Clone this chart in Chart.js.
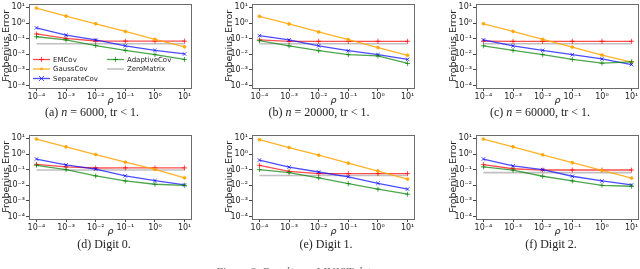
<!DOCTYPE html>
<html>
<head>
<meta charset="utf-8">
<script src="https://cdn.jsdelivr.net/npm/chart.js@4.4.1/dist/chart.umd.min.js"></script>
<style>
  html, body { margin: 0; padding: 0; background: #fff; }
  body { width: 640px; height: 269px; position: relative; overflow: hidden; }
  canvas { position: absolute; }
  .cap {
    position: absolute;
    font-family: 'Liberation Serif', serif;
    font-size: 12px;
    color: #222;
    white-space: nowrap;
    transform: translateX(-50%);
  }
</style>
</head>
<body>
<script>
// rho values on the x axis and the tick labels
const rho = [1e-4, 1e-3, 1e-2, 1e-1, 1, 10];
const xTickLabels = ['10⁻⁴', '10⁻³', '10⁻²', '10⁻¹', '10⁰', '10¹'];
const yTickLabels = ['10⁻⁴', '10⁻³', '10⁻²', '10⁻¹', '10⁰', '10¹'];
const tickExponents = [-4, -3, -2, -1, 0, 1];

const seriesNames = ['EMCov', 'GaussCov', 'SeparateCov', 'AdaptiveCov', 'ZeroMatrix'];

const captions = [
  '(a) <i>n</i> = 6000, tr &lt; 1.',
  '(b) <i>n</i> = 20000, tr &lt; 1.',
  '(c) <i>n</i> = 60000, tr &lt; 1.',
  '(d) Digit 0.',
  '(e) Digit 1.',
  '(f) Digit 2.'
];

// one row per panel, (a) to (f)
const emCov = [
  [0.2, 0.105, 0.071, 0.07, 0.07, 0.07],
  [0.083, 0.068, 0.068, 0.068, 0.068, 0.068],
  [0.07, 0.068, 0.068, 0.068, 0.068, 0.068],
  [0.22, 0.15, 0.128, 0.13, 0.13, 0.13],
  [0.19, 0.078, 0.056, 0.056, 0.056, 0.056],
  [0.21, 0.115, 0.095, 0.095, 0.095, 0.095]
];
const gaussCov = [
  [9, 2.8, 0.9, 0.29, 0.09, 0.03],
  [2.7, 0.87, 0.27, 0.087, 0.027, 0.0087],
  [0.9, 0.29, 0.09, 0.029, 0.009, 0.0032],
  [9.1, 2.9, 0.93, 0.3, 0.104, 0.03],
  [8.3, 2.6, 0.85, 0.26, 0.082, 0.025],
  [9.1, 2.9, 0.89, 0.28, 0.09, 0.029]
];
const separateCov = [
  [0.49, 0.17, 0.083, 0.035, 0.018, 0.0105],
  [0.155, 0.083, 0.035, 0.017, 0.0095, 0.0047],
  [0.083, 0.035, 0.018, 0.0095, 0.0051, 0.0022],
  [0.48, 0.2, 0.11, 0.04, 0.02, 0.0105],
  [0.41, 0.145, 0.071, 0.035, 0.0134, 0.0057],
  [0.48, 0.175, 0.1, 0.038, 0.019, 0.0105]
];
const adaptiveCov = [
  [0.133, 0.083, 0.036, 0.018, 0.0095, 0.0047],
  [0.075, 0.035, 0.017, 0.0095, 0.0079, 0.0026],
  [0.035, 0.018, 0.0095, 0.0047, 0.0027, 0.0033],
  [0.19, 0.1, 0.04, 0.019, 0.0117, 0.01],
  [0.1, 0.065, 0.03, 0.0128, 0.0057, 0.0027],
  [0.15, 0.095, 0.038, 0.019, 0.01, 0.0087]
];
const zeroMatrix = [
  [0.047, 0.047, 0.047, 0.047, 0.047, 0.047],
  [0.047, 0.047, 0.047, 0.047, 0.047, 0.047],
  [0.047, 0.047, 0.047, 0.047, 0.047, 0.047],
  [0.095, 0.095, 0.095, 0.095, 0.095, 0.095],
  [0.042, 0.042, 0.042, 0.042, 0.042, 0.042],
  [0.065, 0.065, 0.065, 0.065, 0.065, 0.065]
];

const styles = [
  { color: 'rgba(255,0,0,0.7)', marker: 'cross', radius: 2.5, width: 1.3 },
  { color: 'rgba(255,165,0,0.85)', marker: 'circle', radius: 1.4, width: 1.3 },
  { color: 'rgba(0,0,255,0.7)', marker: 'crossRot', radius: 2.5, width: 1.3 },
  { color: 'rgba(0,128,0,0.7)', marker: 'cross', radius: 2.5, width: 1.3 },
  { color: 'rgba(150,150,150,0.6)', marker: false, radius: 0, width: 1.6 }
];

const FONT = "'DejaVu Sans', sans-serif";

// canvas placement of each panel
const colLeft = [0, 223, 447];
const rowTop = [0, 131];
const canvasW = 198;
const canvasH = 106;
const captionX = [92, 319, 540, 104, 326, 551];
const captionTop = [105, 237];

/**
 * Frame around the plot area (all four spines)
 */
const boxPlugin = {
  id: 'box',
  afterDraw(chart) {
    const { ctx, chartArea: a } = chart;
    ctx.save();
    ctx.strokeStyle = '#6b6b6b';
    ctx.lineWidth = 1;
    ctx.strokeRect(Math.round(a.left) + 0.5, Math.round(a.top) + 0.5,
      Math.round(a.right - a.left) - 1, Math.round(a.bottom - a.top) - 1);
    ctx.restore();
  }
};

const drawMarker = (ctx, style, x, y) => {
  const r = style.radius;
  ctx.beginPath();
  if (style.marker === 'cross') {
    ctx.moveTo(x - r, y); ctx.lineTo(x + r, y);
    ctx.moveTo(x, y - r); ctx.lineTo(x, y + r);
    ctx.stroke();
  } else if (style.marker === 'crossRot') {
    ctx.moveTo(x - r, y - r); ctx.lineTo(x + r, y + r);
    ctx.moveTo(x - r, y + r); ctx.lineTo(x + r, y - r);
    ctx.stroke();
  } else if (style.marker === 'circle') {
    ctx.arc(x, y, r, 0, Math.PI * 2);
    ctx.fill();
  }
};

/**
 * Legend drawn inside the plot area, two columns like matplotlib
 */
const insideLegend = {
  id: 'insideLegend',
  afterDraw(chart, args, opts) {
    if (!opts.show) return;
    const { ctx, chartArea: a } = chart;
    ctx.save();
    ctx.font = '7px ' + FONT;
    ctx.textBaseline = 'middle';
    chart.data.datasets.forEach((ds, i) => {
      const col = i < 3 ? 0 : 1;
      const row = i < 3 ? i : i - 3;
      const x0 = a.left + 4 + col * 74;
      const y = a.top + 56 + row * 9.5;
      const st = styles[i];
      ctx.strokeStyle = st.color;
      ctx.fillStyle = st.color;
      ctx.lineWidth = st.width;
      ctx.beginPath();
      ctx.moveTo(x0, y);
      ctx.lineTo(x0 + 17, y);
      ctx.stroke();
      ctx.lineWidth = 1;
      drawMarker(ctx, st, x0 + 8.5, y);
      ctx.fillStyle = '#222';
      ctx.fillText(ds.label, x0 + 20, y + 0.5);
    });
    ctx.restore();
  }
};

const fixedTicks = (scale) => {
  scale.ticks = tickExponents.map((e) => ({ value: Math.pow(10, e) }));
};

const makePanel = (p) => {
  const col = p % 3;
  const row = Math.floor(p / 3);
  const canvas = document.createElement('canvas');
  canvas.style.left = colLeft[col] + 'px';
  canvas.style.top = rowTop[row] + 'px';
  canvas.style.width = canvasW + 'px';
  canvas.style.height = canvasH + 'px';
  canvas.width = canvasW;
  canvas.height = canvasH;
  document.body.appendChild(canvas);

  const seriesData = [emCov[p], gaussCov[p], separateCov[p], adaptiveCov[p], zeroMatrix[p]];
  const datasets = seriesData.map((vals, i) => ({
    label: seriesNames[i],
    data: vals.map((v, k) => ({ x: rho[k], y: v })),
    borderColor: styles[i].color,
    backgroundColor: styles[i].color,
    borderWidth: styles[i].width,
    pointStyle: styles[i].marker,
    pointRadius: styles[i].radius,
    pointBorderWidth: 1,
    pointHoverRadius: styles[i].radius,
    order: i === 4 ? 10 : 5 - i,
    tension: 0
  }));

  new Chart(canvas.getContext('2d'), {
    type: 'line',
    data: { datasets },
    options: {
      responsive: false,
      animation: false,
      devicePixelRatio: 1,
      layout: { padding: { left: 0, right: canvasW - 29 - 163, top: 1, bottom: 0 } },
      plugins: {
        legend: { display: false },
        tooltip: { enabled: false },
        insideLegend: { show: p === 0 }
      },
      scales: {
        x: {
          type: 'logarithmic',
          min: Math.pow(10, -4.25),
          max: Math.pow(10, 1.25),
          afterBuildTicks: fixedTicks,
          afterFit: (scale) => {
            scale.height = 18;
            scale.paddingLeft = 0;
            scale.paddingRight = 0;
          },
          border: { display: false },
          grid: { display: true, drawOnChartArea: false, drawTicks: true, tickLength: 3, color: '#444' },
          ticks: {
            autoSkip: false,
            maxRotation: 0,
            padding: 1,
            color: '#222',
            font: { family: FONT, size: 8 },
            callback: (v, i) => xTickLabels[i]
          },
          title: {
            display: true,
            text: 'ρ',
            color: '#222',
            padding: { top: 0, bottom: 0 },
            font: { family: FONT, size: 9.5, style: 'italic' }
          }
        },
        y: {
          type: 'logarithmic',
          min: Math.pow(10, -4.15),
          max: Math.pow(10, 1.25),
          afterBuildTicks: fixedTicks,
          afterFit: (scale) => {
            scale.width = 29;
            scale.paddingTop = 0;
            scale.paddingBottom = 0;
          },
          border: { display: false },
          grid: { display: true, drawOnChartArea: false, drawTicks: true, tickLength: 3, color: '#444' },
          ticks: {
            autoSkip: false,
            padding: 1,
            color: '#222',
            font: { family: FONT, size: 8 },
            callback: (v, i) => yTickLabels[i]
          },
          title: {
            display: true,
            text: 'Frobenius Error',
            color: '#222',
            padding: { top: 1, bottom: 0 },
            font: { family: FONT, size: 9.5 }
          }
        }
      }
    },
    plugins: [boxPlugin, insideLegend]
  });

  const cap = document.createElement('div');
  cap.className = 'cap';
  cap.style.left = captionX[p] + 'px';
  cap.style.top = captionTop[row] + 'px';
  cap.innerHTML = captions[p];
  document.body.appendChild(cap);
};

for (let p = 0; p < 6; p++) makePanel(p);

// figure caption, cut off at the bottom edge in the reference
const figCap = document.createElement('div');
figCap.className = 'cap';
figCap.style.left = '298px';
figCap.style.top = '265px';
figCap.style.color = '#777';
figCap.textContent = 'Figure 2: Results on MNIST data.';
document.body.appendChild(figCap);
</script>
</body>
</html>
